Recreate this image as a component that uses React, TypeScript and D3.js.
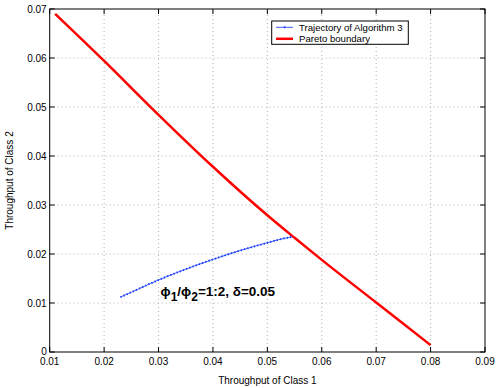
import React, { useEffect, useRef } from 'react';
import * as d3 from 'd3';

// Pareto boundary (class 1 throughput, class 2 throughput)
const paretoX = [0.011, 0.02, 0.03, 0.04, 0.05, 0.055, 0.06, 0.07, 0.08];
const paretoY = [0.069, 0.0594, 0.0484, 0.0378, 0.0279, 0.0233, 0.0188, 0.0101, 0.0014];

// Trajectory of Algorithm 3
const trajX = [0.023, 0.025, 0.03, 0.035, 0.04, 0.045, 0.05, 0.052, 0.0545];
const trajY = [0.0112, 0.0122, 0.0147, 0.0169, 0.0189, 0.0207, 0.0223, 0.0229, 0.0235];

const xTicks = [0.01, 0.02, 0.03, 0.04, 0.05, 0.06, 0.07, 0.08, 0.09];
const yTicks = [0, 0.01, 0.02, 0.03, 0.04, 0.05, 0.06, 0.07];

const W = 498;
const H = 388;
const margin = { left: 49.7, right: 13, top: 9, bottom: 36 };
const font = 'Liberation Sans, Arial, Helvetica, sans-serif';

const App = () => {
  const svgRef = useRef<SVGSVGElement | null>(null);

  useEffect(() => {
    const svg = d3.select(svgRef.current);
    svg.selectAll('*').remove();

    const x = d3.scaleLinear().domain([0.01, 0.09]).range([margin.left, W - margin.right]);
    const y = d3.scaleLinear().domain([0, 0.07]).range([H - margin.bottom, margin.top]);
    const [x0, x1] = x.range();
    const [y0, y1] = y.range();

    svg.append('rect').attr('width', W).attr('height', H).attr('fill', '#fff');

    // grid
    const grid = svg.append('g').attr('stroke', '#b0b0b0').attr('stroke-width', 1).attr('stroke-dasharray', '1 3');
    xTicks.slice(1, -1).forEach((t) => {
      grid.append('line').attr('x1', x(t)).attr('x2', x(t)).attr('y1', y0).attr('y2', y1);
    });
    yTicks.slice(1, -1).forEach((t) => {
      grid.append('line').attr('x1', x0).attr('x2', x1).attr('y1', y(t)).attr('y2', y(t));
    });

    // ticks on all four sides, pointing in
    const ticks = svg.append('g').attr('stroke', '#000').attr('stroke-width', 1);
    xTicks.forEach((t) => {
      ticks.append('line').attr('x1', x(t)).attr('x2', x(t)).attr('y1', y0).attr('y2', y0 - 5);
      ticks.append('line').attr('x1', x(t)).attr('x2', x(t)).attr('y1', y1).attr('y2', y1 + 5);
    });
    yTicks.forEach((t) => {
      ticks.append('line').attr('x1', x0).attr('x2', x0 + 5).attr('y1', y(t)).attr('y2', y(t));
      ticks.append('line').attr('x1', x1).attr('x2', x1 - 5).attr('y1', y(t)).attr('y2', y(t));
    });

    svg.append('rect')
      .attr('x', x0).attr('y', y1)
      .attr('width', x1 - x0).attr('height', y0 - y1)
      .attr('fill', 'none').attr('stroke', '#000').attr('stroke-width', 1);

    // tick labels
    const fmt = (d: number) => (d === 0 ? '0' : String(+d.toFixed(2)));
    svg.append('g').selectAll('text').data(xTicks).enter().append('text')
      .attr('x', (d) => x(d)).attr('y', y0 + 12.5)
      .attr('text-anchor', 'middle')
      .attr('font-family', font).attr('font-size', 10)
      .text(fmt);
    svg.append('g').selectAll('text').data(yTicks).enter().append('text')
      .attr('x', x0 - 3).attr('y', (d) => y(d) + (d === 0 ? 2.5 : 3.5))
      .attr('text-anchor', 'end')
      .attr('font-family', font).attr('font-size', 10)
      .text(fmt);

    // axis labels
    svg.append('text')
      .attr('x', (x0 + x1) / 2).attr('y', 384)
      .attr('text-anchor', 'middle')
      .attr('font-family', font).attr('font-size', 10)
      .text('Throughput of Class 1');
    svg.append('text')
      .attr('transform', `translate(13,${(y0 + y1) / 2}) rotate(-90)`)
      .attr('text-anchor', 'middle')
      .attr('font-family', font).attr('font-size', 10)
      .text('Throughput of Class 2');

    const line = d3.line<number>().curve(d3.curveMonotoneX);

    // Pareto boundary
    svg.append('path')
      .attr('d', line.x((d, i) => x(paretoX[i])).y((d) => y(d))(paretoY))
      .attr('fill', 'none').attr('stroke', '#ff0000').attr('stroke-width', 2.5);

    // trajectory
    const trajPath = line.x((d, i) => x(trajX[i])).y((d) => y(d))(trajY);
    svg.append('path')
      .attr('d', trajPath)
      .attr('fill', 'none').attr('stroke', '#4060ff').attr('stroke-width', 1);
    svg.append('path')
      .attr('d', trajPath)
      .attr('fill', 'none').attr('stroke', '#1a3cff').attr('stroke-width', 2)
      .attr('stroke-dasharray', '1.2 2.2');

    // legend
    const lg = svg.append('g');
    lg.append('rect')
      .attr('x', 271.7).attr('y', 21).attr('width', 136.6).attr('height', 23.3)
      .attr('fill', '#fff').attr('stroke', '#000').attr('stroke-width', 1);
    lg.append('line').attr('x1', 276).attr('x2', 293).attr('y1', 27.3).attr('y2', 27.3)
      .attr('stroke', '#4060ff').attr('stroke-width', 1);
    lg.append('circle').attr('cx', 284.6).attr('cy', 27.3).attr('r', 1).attr('fill', '#1a3cff');
    lg.append('line').attr('x1', 276).attr('x2', 293).attr('y1', 38.8).attr('y2', 38.8)
      .attr('stroke', '#ff0000').attr('stroke-width', 2.5);
    lg.append('text').attr('x', 299).attr('y', 30.8)
      .attr('font-family', font).attr('font-size', 9.6)
      .text('Trajectory of Algorithm 3');
    lg.append('text').attr('x', 299).attr('y', 42.3)
      .attr('font-family', font).attr('font-size', 9.6)
      .text('Pareto boundary');

    // annotation
    const ann = svg.append('text')
      .attr('x', 160.5).attr('y', 296)
      .attr('font-family', font).attr('font-size', 13.5).attr('font-weight', 'bold');
    ann.append('tspan').text('ϕ');
    ann.append('tspan').attr('dy', 4.5).attr('font-size', 12).text('1');
    ann.append('tspan').attr('dy', -4.5).text('/ϕ');
    ann.append('tspan').attr('dy', 4.5).attr('font-size', 12).text('2');
    ann.append('tspan').attr('dy', -4.5).text('=1:2, δ=0.05');
  }, []);

  return (
    <div style={{ position: 'fixed', left: 0, top: 0 }}>
      <svg ref={svgRef} width={W} height={H} style={{ display: 'block' }}></svg>
    </div>
  );
};

export default App;
